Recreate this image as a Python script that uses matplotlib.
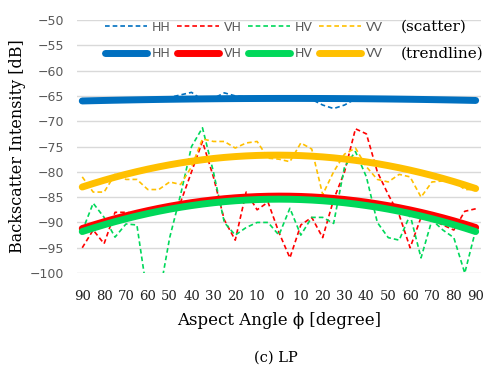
import matplotlib.pyplot as plt
import numpy as np

# aspect angle, signed (-90 .. 90 in 5 degree steps); the axis shows absolute values
angles = np.arange(-90, 91, 5)
tick_pos = np.arange(-90, 91, 10)
tick_labels = [str(abs(a)) for a in tick_pos]

hh = [-66.0, -66.0, -65.8, -65.8, -65.8, -65.6, -65.6, -65.5, -65.3, -64.8,
      -64.3, -65.8, -65.5, -64.4, -65.0, -65.2, -65.3, -65.5, -65.2, -65.5,
      -65.2, -65.7, -66.8, -67.5, -66.8, -65.6, -65.5, -65.8, -66.0, -66.0,
      -65.8, -65.8, -65.9, -66.0, -66.0, -66.1, -66.1]
vh = [-95.0, -91.5, -94.2, -88.0, -88.0, -88.3, -87.8, -87.3, -86.8, -86.0,
      -80.0, -74.0, -81.0, -89.5, -93.5, -84.0, -87.5, -86.0, -92.0, -97.0,
      -90.5, -89.0, -93.0, -85.5, -80.0, -71.5, -72.5, -80.0, -84.5, -88.5,
      -95.0, -89.0, -89.5, -90.5, -91.5, -87.8, -87.3]
hv = [-91.7, -86.2, -89.0, -92.9, -90.3, -90.5, -105.0, -105.0, -93.0, -84.5,
      -75.0, -71.3, -80.0, -90.0, -92.5, -91.0, -90.0, -90.0, -92.5, -87.2,
      -92.5, -89.0, -89.0, -90.2, -79.0, -76.0, -81.0, -90.0, -93.0, -93.5,
      -88.5, -97.0, -89.5, -91.5, -93.0, -100.0, -91.5]
vv = [-81.0, -84.0, -84.0, -80.5, -81.5, -81.5, -83.5, -83.5, -82.0, -82.5,
      -79.0, -73.5, -74.0, -74.0, -75.3, -74.3, -74.0, -77.3, -77.5, -78.0,
      -74.3, -75.5, -84.5, -80.0, -76.5, -75.3, -79.0, -81.5, -82.0, -80.5,
      -81.0, -85.0, -82.0, -81.8, -81.8, -83.5, -83.5]

# 2nd order trendlines, read at 90 (left), 0 and 90 (right)
trend_at = [-90, 0, 90]
hh_trend = [-66.0, -65.5, -65.9]
vh_trend = [-91.2, -84.8, -91.0]
hv_trend = [-91.8, -85.4, -91.8]
vv_trend = [-83.0, -76.7, -83.3]

names = ['HH', 'VH', 'HV', 'VV']
series = [hh, vh, hv, vv]
trends = [hh_trend, vh_trend, hv_trend, vv_trend]
colors = ['#0070C0', '#FF0000', '#00D85A', '#FFC000']

serif = ['DejaVu Serif']
sans = ['DejaVu Sans']

fig = plt.figure(figsize=(4.86, 3.70), dpi=100)
ax = fig.add_axes([0.158, 0.262, 0.832, 0.684])

scatter_lines = []
for name, vals, c in zip(names, series, colors):
    ln, = ax.plot(angles, vals, color=c, lw=1.2, linestyle=(0, (2.8, 1.8)),
                  label=name, zorder=3)
    scatter_lines.append(ln)

trend_lines = []
for name, tr, c in zip(names, trends, colors):
    coef = np.polyfit(trend_at, tr, 2)
    ln, = ax.plot(angles, np.polyval(coef, angles), color=c, lw=5,
                  solid_capstyle='round', label=name, zorder=4)
    trend_lines.append(ln)

ax.set_xlim(-92.5, 92.5)
ax.set_ylim(-100, -50)
ax.set_yticks(np.arange(-100, -49, 5))
ax.set_xticks(tick_pos)
ax.set_xticklabels(tick_labels, family=serif, fontsize=9.5, color='#222222')
for t in ax.get_yticklabels():
    t.set_family(sans)
    t.set_fontsize(9)
    t.set_color('#595959')
ax.tick_params(axis='both', length=0)
ax.tick_params(axis='x', pad=12)
ax.tick_params(axis='y', pad=9)
ax.grid(axis='y', color='#D9D9D9', lw=1)
ax.set_axisbelow(True)
for s in ax.spines.values():
    s.set_visible(False)

ax.set_xlabel('Aspect Angle \u03d5 [degree]', family=serif, fontsize=12,
              labelpad=7)
ax.set_ylabel('Backscatter Intensity [dB]', family=serif, fontsize=11.5,
              labelpad=3)

leg_kw = dict(ncol=4, frameon=False, loc='center left', borderpad=0,
              borderaxespad=0, handlelength=3.4, handletextpad=0.4,
              columnspacing=0.45, prop={'family': sans, 'size': 9})
leg1 = ax.legend(handles=scatter_lines, bbox_to_anchor=(0.069, 0.972), **leg_kw)
for t in leg1.get_texts():
    t.set_color('#595959')
ax.add_artist(leg1)
leg2 = ax.legend(handles=trend_lines, bbox_to_anchor=(0.069, 0.866), **leg_kw)
for t in leg2.get_texts():
    t.set_color('#595959')

ax.text(0.80, 0.972, '(scatter)', transform=ax.transAxes, family=serif,
        fontsize=11, va='center', ha='left')
ax.text(0.80, 0.866, '(trendline)', transform=ax.transAxes, family=serif,
        fontsize=11, va='center', ha='left')

fig.text(0.568, 1 - 358 / 370, '(c) LP', family=serif, fontsize=10.5,
         ha='center', va='center')

fig.savefig('out.png', dpi=100)
